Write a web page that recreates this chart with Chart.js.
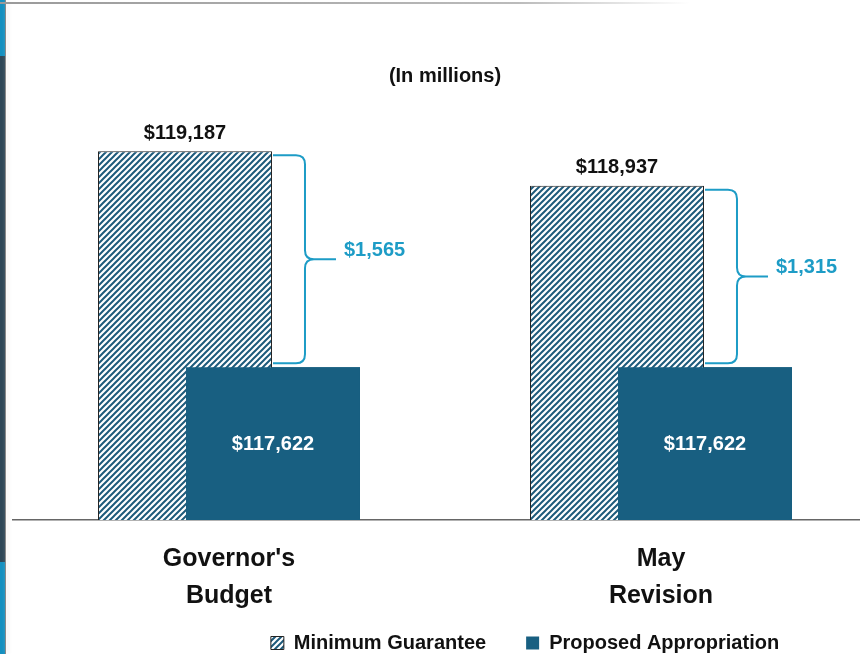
<!DOCTYPE html>
<html>
<head>
<meta charset="utf-8">
<script src="https://cdn.jsdelivr.net/npm/chart.js@4/dist/chart.umd.min.js"></script>
<style>
  html, body { margin: 0; padding: 0; background: #fff; overflow: hidden; width: 860px; height: 654px; }
  #wrap { position: relative; width: 860px; height: 654px; overflow: hidden; }
  #grafico { position: absolute; left: 0; top: 0; }
  .faixa { position: absolute; left: 0; width: 5px; }
  #linhaEsq { position: absolute; left: 5px; top: 0; width: 1px; height: 654px; background: #8a8a8a; box-shadow: 2px 0 4px #ddd; }
  #linhaTopo { position: absolute; left: 0; top: 2px; width: 690px; height: 2px; background: linear-gradient(to right, #9a9a9a, #bbb 75%, #fff); }
</style>
</head>
<body>
<div id="wrap">
  <canvas id="grafico" width="877" height="654"></canvas>
  <div class="faixa" style="top:0;height:56px;background:#1590c0"></div>
  <div class="faixa" style="top:56px;height:506px;background:#2e4757"></div>
  <div class="faixa" style="top:562px;height:92px;background:#1590c0"></div>
  <div id="linhaEsq"></div>
  <div id="linhaTopo"></div>
</div>
<script>
// Dados do gráfico
var categorias = [["Governor's", "Budget"], ["May", "Revision"]];
var nomesSeries = ['Minimum Guarantee', 'Proposed Appropriation'];
var garantiaMinima = [119187, 118937];
var apropriacaoProposta = [117622, 117622];
var eixoMin = 116515;
var eixoMax = 119616;

var fonte = "'Liberation Sans', Arial, sans-serif";
var corSolida = '#185f81';
var corHachura = '#1d5a7b';
var corChave = '#1d9cc6';

// Padrão hachurado para a garantia mínima
function criarHachura() {
    var c = document.createElement('canvas');
    c.width = 6;
    c.height = 6;
    var p = c.getContext('2d');
    p.fillStyle = '#fff';
    p.fillRect(0, 0, 6, 6);
    p.strokeStyle = corHachura;
    p.lineWidth = 2;
    p.beginPath();
    p.moveTo(0, 6); p.lineTo(6, 0);
    p.moveTo(-1, 1); p.lineTo(1, -1);
    p.moveTo(5, 7); p.lineTo(7, 5);
    p.stroke();
    return p.createPattern(c, 'repeat');
}

function formatar(v) {
    return '$' + v.toLocaleString('en-US');
}

// Desenha a chave entre as barras
function desenharChave(ctx, x0, topo, base, texto) {
    var vx = x0 + 32;
    var r = 9;
    var meio = (topo + base) / 2;
    ctx.save();
    ctx.strokeStyle = corChave;
    ctx.lineWidth = 2;
    ctx.beginPath();
    ctx.moveTo(x0, topo);
    ctx.lineTo(vx - r, topo);
    ctx.quadraticCurveTo(vx, topo, vx, topo + r);
    ctx.lineTo(vx, meio - r);
    ctx.quadraticCurveTo(vx, meio, vx + r, meio);
    ctx.lineTo(vx + 31, meio);
    ctx.moveTo(vx + r, meio);
    ctx.quadraticCurveTo(vx, meio, vx, meio + r);
    ctx.lineTo(vx, base - r);
    ctx.quadraticCurveTo(vx, base, vx - r, base);
    ctx.lineTo(x0, base);
    ctx.stroke();
    ctx.fillStyle = corChave;
    ctx.font = 'bold 20px ' + fonte;
    ctx.textAlign = 'left';
    ctx.textBaseline = 'middle';
    ctx.fillText(texto, vx + 39, meio - 9);
    ctx.restore();
}

// Plugin: redesenha as barras sólidas por cima e escreve os rótulos
var pluginRotulos = {
    id: 'rotulos',
    afterLayout: function(chart) {
        // legenda fica deslocada no original
        chart.legend.left += 80;
        chart.legend.right += 80;
        chart.legend.top += 9;
        chart.legend.bottom += 9;
        // deixa espaço para a segunda linha dos rótulos do eixo x
        chart.scales.x.bottom = chart.height;
    },
    afterDatasetsDraw: function(chart) {
        var ctx = chart.ctx;
        var area = chart.chartArea;
        var metaMin = chart.getDatasetMeta(0);
        var metaProp = chart.getDatasetMeta(1);

        ctx.save();
        ctx.beginPath();
        ctx.rect(area.left, area.top, area.right - area.left, area.bottom - area.top);
        ctx.clip();
        metaProp.controller.draw();
        ctx.restore();

        metaMin.data.forEach(function(barra, i) {
            var solida = metaProp.data[i];
            ctx.save();
            ctx.font = 'bold 20px ' + fonte;
            ctx.textAlign = 'center';
            ctx.textBaseline = 'middle';
            ctx.fillStyle = '#111';
            ctx.fillText(formatar(garantiaMinima[i]), barra.x, barra.y - 18);
            ctx.fillStyle = '#fff';
            ctx.fillText(formatar(apropriacaoProposta[i]), solida.x, solida.y + 77);
            ctx.restore();

            var dif = garantiaMinima[i] - apropriacaoProposta[i];
            desenharChave(ctx, barra.x + barra.width / 2 + 1, barra.y + 4, solida.y - 4, formatar(dif));
        });
    }
};

var ctx = document.getElementById('grafico').getContext('2d');

var grafico = new Chart(ctx, {
    type: 'bar',
    data: {
        labels: categorias,
        datasets: [{
            label: nomesSeries[0],
            data: garantiaMinima,
            backgroundColor: criarHachura(),
            borderColor: '#222',
            borderWidth: 1,
            borderSkipped: false
        }, {
            label: nomesSeries[1],
            data: apropriacaoProposta,
            backgroundColor: corSolida,
            borderWidth: 0
        }]
    },
    options: {
        responsive: false,
        animation: false,
        categoryPercentage: 0.4074,
        barPercentage: 1.977,
        layout: {
            padding: { left: 13, right: 0, top: 0, bottom: 0 }
        },
        scales: {
            x: {
                grid: { display: false },
                border: { display: true, color: '#666', width: 1.5 },
                ticks: {
                    color: '#111',
                    padding: 13,
                    font: { family: fonte, size: 25, weight: 'bold', lineHeight: 1.48 }
                },
                afterFit: function(escala) {
                    escala.height = 64;
                }
            },
            y: {
                display: false,
                min: eixoMin,
                max: eixoMax
            }
        },
        plugins: {
            title: {
                display: true,
                text: '(In millions)',
                color: '#111',
                font: { family: fonte, size: 20, weight: 'bold' },
                padding: { top: 64, bottom: 4 }
            },
            legend: {
                display: true,
                position: 'bottom',
                labels: {
                    color: '#111',
                    boxWidth: 13,
                    boxHeight: 13,
                    padding: 40,
                    font: { family: fonte, size: 20, weight: 'bold' }
                }
            },
            tooltip: { enabled: false }
        }
    },
    plugins: [pluginRotulos]
});
</script>
</body>
</html>
